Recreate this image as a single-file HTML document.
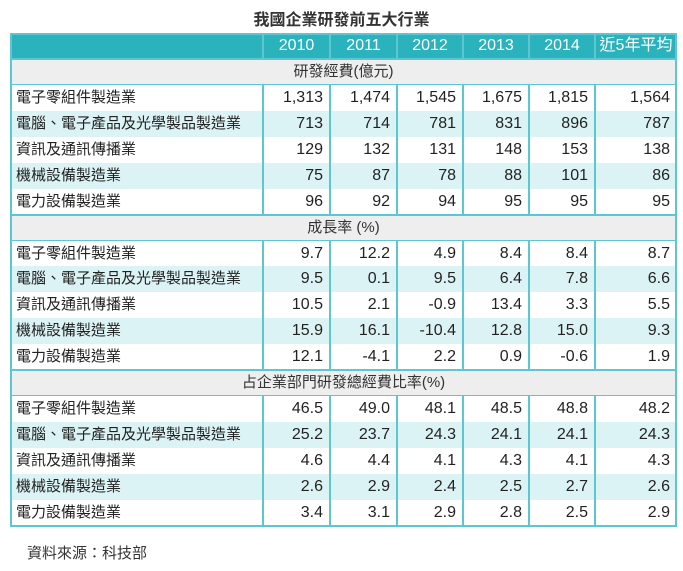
<!DOCTYPE html>
<html><head><meta charset="utf-8"><style>
body{margin:0;width:683px;height:571px;background:#fff;position:relative;overflow:hidden;font-family:"Liberation Sans","Noto Sans CJK TC",sans-serif;color:#222}
.c{position:absolute;box-sizing:border-box;font-size:15px;line-height:26px;white-space:nowrap;overflow:hidden}
.t{position:absolute;top:6px;left:0;width:683px;text-align:center;font-size:16px;font-weight:bold;color:#333}
.line{position:absolute;background:#5cc7d0}
</style></head><body>
<div class="t">我國企業研發前五大行業</div>
<div id="tbl"></div>
<div style="position:absolute;left:27px;top:542px;font-size:15px;color:#333">資料來源：科技部</div>
<script>
const years=["2010","2011","2012","2013","2014","近5年平均"];
const industries=["電子零組件製造業","電腦、電子產品及光學製品製造業","資訊及通訊傳播業","機械設備製造業","電力設備製造業"];
const sections=["研發經費(億元)","成長率 (%)","占企業部門研發總經費比率(%)"];
const spend=[["1,313","1,474","1,545","1,675","1,815","1,564"],["713","714","781","831","896","787"],["129","132","131","148","153","138"],["75","87","78","88","101","86"],["96","92","94","95","95","95"]];
const growth=[["9.7","12.2","4.9","8.4","8.4","8.7"],["9.5","0.1","9.5","6.4","7.8","6.6"],["10.5","2.1","-0.9","13.4","3.3","5.5"],["15.9","16.1","-10.4","12.8","15.0","9.3"],["12.1","-4.1","2.2","0.9","-0.6","1.9"]];
const share=[["46.5","49.0","48.1","48.5","48.8","48.2"],["25.2","23.7","24.3","24.1","24.1","24.3"],["4.6","4.4","4.1","4.3","4.1","4.3"],["2.6","2.9","2.4","2.5","2.7","2.6"],["3.4","3.1","2.9","2.8","2.5","2.9"]];
const data=[spend,growth,share];
const colX=[10,263,330,397,463,529,595,677];
const top0=33,rh=25.94;
const tbl=document.getElementById('tbl');
function cell(x,y,w,h,txt,style){const d=document.createElement('div');d.className='c';d.style.cssText=`left:${x}px;top:${y}px;width:${w}px;height:${h}px;`+style;d.textContent=txt;tbl.appendChild(d);return d;}
function line(x,y,w,h){const d=document.createElement('div');d.className='line';d.style.cssText=`left:${x}px;top:${y}px;width:${w}px;height:${h}px`;


tbl.appendChild(d);}
let r=0;
// header
let hy=top0;
let hb=cell(colX[0],hy,colX[7]-colX[0],rh+1,'','background:#2ab3bd');


years.forEach((y,i)=>{const d=cell(colX[i+1],hy,colX[i+2]-colX[i+1],rh,y,'color:#fff;text-align:center;font-size:16px');

});
r=1;
const vlines=[];
sections.forEach((s,si)=>{
 const y=Math.round(top0+r*rh);
 const d=cell(colX[0],y,colX[7]-colX[0],Math.ceil(rh),s,'background:#eeeeee;text-align:center;color:#333');
 
 
 line(colX[0],y-1,colX[7]-colX[0],2);
 r++;
 const ys=Math.round(top0+r*rh);
 line(colX[0],ys-1,colX[7]-colX[0],2);
 industries.forEach((ind,ii)=>{
  const yy=Math.round(top0+r*rh), yn=Math.round(top0+(r+1)*rh);
  const bg=ii%2?'#dcf3f5':'#fff';
  const l=cell(colX[0],yy,colX[7]-colX[0],yn-yy,ind,`background:${bg};padding-left:6px`);
  
  
  data[si][ii].forEach((v,ci)=>{const c=cell(colX[ci+1],yy,colX[ci+2]-colX[ci+1],yn-yy,v,'text-align:right;padding-right:7px;font-size:16px');
  
  });
  r++;
 });
 vlines.push([ys,Math.round(top0+r*rh)]);
});
// vertical lines
vlines.forEach(([a,b])=>{for(let i=1;i<7;i++)line(colX[i]-1,a,2,b-a);});
for(let i=1;i<7;i++)line(colX[i]-1,top0,2,Math.round(rh));
const bottom=Math.round(top0+r*rh);
line(colX[0],top0,2,bottom-top0);line(colX[7]-2,top0,2,bottom-top0);
line(colX[0],top0,colX[7]-colX[0],2);line(colX[0],bottom-1,colX[7]-colX[0],2);
</script>
</body></html>
